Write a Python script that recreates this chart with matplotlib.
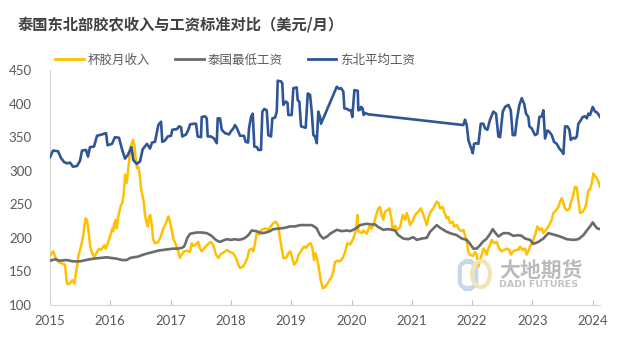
import matplotlib
matplotlib.use("Agg")
import matplotlib.pyplot as plt
from matplotlib.lines import Line2D
from matplotlib.patches import FancyBboxPatch, Ellipse

plt.rcParams['font.family'] = ['Noto Sans CJK SC', 'DejaVu Sans']

# ---------------- data (decimal year, USD/month) ----------------
cup_t = [2015.000, 2015.055, 2015.083, 2015.138, 2015.199, 2015.249, 2015.265, 2015.282, 2015.315, 2015.348,
         2015.370, 2015.403, 2015.426, 2015.453, 2015.469, 2015.498, 2015.526, 2015.552, 2015.569, 2015.592,
         2015.614, 2015.635, 2015.658, 2015.680, 2015.701, 2015.735, 2015.774, 2015.813, 2015.846, 2015.867,
         2015.900, 2015.924, 2015.957, 2015.978, 2016.012, 2016.033, 2016.050, 2016.066, 2016.090, 2016.106,
         2016.128, 2016.144, 2016.177, 2016.199, 2016.222, 2016.232, 2016.244, 2016.272, 2016.289, 2016.310,
         2016.332, 2016.355, 2016.376, 2016.398, 2016.421, 2016.443, 2016.464, 2016.488, 2016.509, 2016.531,
         2016.554, 2016.575, 2016.597, 2016.620, 2016.642, 2016.663, 2016.687, 2016.708, 2016.741, 2016.786,
         2016.824, 2016.879, 2016.924, 2016.962, 2016.985, 2017.018, 2017.045, 2017.101, 2017.156, 2017.184,
         2017.211, 2017.267, 2017.322, 2017.350, 2017.376, 2017.433, 2017.459, 2017.488, 2017.516, 2017.554,
         2017.599, 2017.665, 2017.708, 2017.753, 2017.791, 2017.831, 2017.874, 2017.930, 2017.985, 2018.040,
         2018.085, 2018.123, 2018.151, 2018.196, 2018.234, 2018.272, 2018.305, 2018.345, 2018.371, 2018.400,
         2018.428, 2018.471, 2018.511, 2018.566, 2018.620, 2018.677, 2018.703, 2018.748, 2018.786, 2018.814,
         2018.843, 2018.869, 2018.914, 2018.952, 2018.985, 2019.018, 2019.046, 2019.091, 2019.118, 2019.174,
         2019.212, 2019.245, 2019.284, 2019.323, 2019.350, 2019.378, 2019.400, 2019.423, 2019.449, 2019.489,
         2019.522, 2019.549, 2019.589, 2019.627, 2019.672, 2019.698, 2019.726, 2019.765, 2019.809, 2019.854,
         2019.892, 2019.930, 2019.975, 2020.030, 2020.075, 2020.096, 2020.113, 2020.169, 2020.196, 2020.252,
         2020.295, 2020.335, 2020.373, 2020.418, 2020.444, 2020.473, 2020.501, 2020.527, 2020.556, 2020.594,
         2020.627, 2020.655, 2020.683, 2020.721, 2020.760, 2020.804, 2020.849, 2020.887, 2020.916, 2020.942,
         2020.970, 2021.015, 2021.053, 2021.081, 2021.108, 2021.148, 2021.181, 2021.219, 2021.247, 2021.274,
         2021.313, 2021.357, 2021.385, 2021.413, 2021.440, 2021.468, 2021.512, 2021.534, 2021.579, 2021.605,
         2021.634, 2021.678, 2021.700, 2021.745, 2021.788, 2021.828, 2021.854, 2021.882, 2021.910, 2021.937,
         2021.965, 2022.010, 2022.048, 2022.076, 2022.103, 2022.131, 2022.159, 2022.186, 2022.214, 2022.242,
         2022.269, 2022.297, 2022.325, 2022.363, 2022.408, 2022.435, 2022.463, 2022.491, 2022.529, 2022.574,
         2022.617, 2022.640, 2022.683, 2022.728, 2022.766, 2022.794, 2022.839, 2022.877, 2022.905, 2022.932,
         2022.960, 2023.005, 2023.043, 2023.081, 2023.115, 2023.154, 2023.181, 2023.226, 2023.264, 2023.292,
         2023.320, 2023.347, 2023.391, 2023.430, 2023.458, 2023.486, 2023.513, 2023.541, 2023.569, 2023.612,
         2023.635, 2023.668, 2023.707, 2023.735, 2023.761, 2023.789, 2023.834, 2023.872, 2023.901, 2023.927,
         2023.955, 2023.983, 2024.010, 2024.038, 2024.066, 2024.093, 2024.121]
cup_income = [174, 180, 172, 164, 162, 160, 145, 132, 131, 134,
              137, 132, 145, 160, 172, 182, 192, 204, 217, 229,
              226, 212, 194, 182, 177, 172, 178, 184, 182, 185,
              189, 184, 192, 197, 207, 214, 210, 222, 227, 214,
              229, 237, 249, 252, 264, 276, 294, 282, 296, 313,
              336, 340, 346, 338, 318, 304, 306, 294, 274, 264,
              254, 234, 224, 217, 231, 234, 219, 199, 192, 193,
              199, 214, 222, 232, 226, 212, 199, 187, 170, 175,
              179, 181, 179, 192, 188, 191, 194, 184, 180, 184,
              189, 194, 189, 175, 170, 176, 178, 182, 179, 177,
              170, 160, 155, 157, 162, 170, 182, 184, 180, 192,
              207, 205, 212, 214, 212, 219, 222, 224, 217, 199,
              184, 170, 170, 177, 180, 170, 160, 165, 174, 182,
              187, 185, 190, 192, 185, 167, 177, 170, 160, 137,
              125, 126, 130, 136, 142, 150, 164, 166, 165, 170,
              178, 192, 190, 199, 212, 234, 210, 207, 211, 206,
              217, 214, 222, 237, 244, 246, 234, 227, 239, 241,
              244, 232, 212, 218, 212, 216, 234, 227, 237, 230,
              219, 225, 234, 237, 239, 244, 237, 227, 219, 230,
              239, 244, 249, 254, 252, 244, 246, 239, 229, 231,
              222, 224, 217, 219, 212, 210, 212, 204, 194, 179,
              175, 173, 179, 175, 157, 167, 175, 184, 181, 175,
              184, 189, 197, 192, 194, 187, 182, 180, 182, 184,
              182, 175, 180, 182, 182, 187, 182, 184, 175, 180,
              187, 194, 204, 217, 212, 214, 207, 212, 217, 222,
              227, 237, 241, 246, 254, 259, 251, 244, 241, 243,
              252, 261, 276, 275, 256, 237, 239, 244, 256, 271,
              272, 281, 296, 292, 289, 284, 276]

min_t = [2015.000, 2015.083, 2015.166, 2015.277, 2015.381, 2015.498, 2015.597, 2015.718, 2015.829, 2015.940,
         2016.028, 2016.106, 2016.194, 2016.272, 2016.327, 2016.381, 2016.459, 2016.547, 2016.625, 2016.713,
         2016.791, 2016.879, 2016.957, 2017.045, 2017.123, 2017.184, 2017.222, 2017.247, 2017.277, 2017.322,
         2017.371, 2017.433, 2017.516, 2017.599, 2017.665, 2017.703, 2017.736, 2017.786, 2017.819, 2017.869,
         2017.930, 2018.002, 2018.068, 2018.123, 2018.184, 2018.234, 2018.289, 2018.345, 2018.416, 2018.511,
         2018.582, 2018.648, 2018.703, 2018.814, 2018.897, 2018.980, 2019.063, 2019.146, 2019.229, 2019.340,
         2019.395, 2019.423, 2019.449, 2019.478, 2019.532, 2019.594, 2019.643, 2019.698, 2019.755, 2019.837,
         2019.920, 2019.975, 2020.030, 2020.086, 2020.141, 2020.252, 2020.323, 2020.390, 2020.444, 2020.527,
         2020.605, 2020.672, 2020.721, 2020.776, 2020.859, 2020.937, 2021.025, 2021.081, 2021.164, 2021.247,
         2021.302, 2021.357, 2021.413, 2021.468, 2021.522, 2021.579, 2021.634, 2021.745, 2021.828, 2021.910,
         2021.965, 2022.020, 2022.076, 2022.131, 2022.176, 2022.242, 2022.297, 2022.342, 2022.380, 2022.435,
         2022.517, 2022.600, 2022.683, 2022.766, 2022.823, 2022.877, 2022.960, 2023.015, 2023.098, 2023.181,
         2023.264, 2023.347, 2023.458, 2023.569, 2023.678, 2023.761, 2023.844, 2023.910, 2023.955, 2024.000,
         2024.038, 2024.076, 2024.121]
min_wage = [166, 168, 166, 167, 165, 165, 167, 169, 170, 171,
            170, 169, 167, 167, 170, 171, 172, 175, 177, 179,
            181, 182, 183, 184, 184, 185, 187, 192, 200, 206,
            207, 208, 208, 207, 204, 201, 198, 195, 194, 196,
            198, 197, 198, 197, 198, 200, 204, 211, 210, 207,
            208, 210, 213, 214, 215, 217, 217, 219, 219, 219,
            216, 214, 209, 204, 199, 202, 206, 209, 212, 210,
            211, 210, 212, 215, 219, 221, 220, 220, 216, 212,
            213, 212, 211, 204, 199, 198, 201, 197, 199, 200,
            209, 214, 219, 215, 212, 209, 207, 204, 199, 197,
            191, 184, 184, 189, 194, 199, 206, 213, 208, 202,
            207, 207, 203, 204, 203, 199, 197, 191, 194, 199,
            207, 205, 202, 198, 197, 198, 204, 212, 217, 223,
            218, 214, 213]

ne_t = [2015.000, 2015.050, 2015.133, 2015.182, 2015.232, 2015.282, 2015.332, 2015.381, 2015.448, 2015.498,
        2015.531, 2015.597, 2015.630, 2015.663, 2015.730, 2015.779, 2015.862, 2015.929, 2015.954, 2016.028,
        2016.078, 2016.144, 2016.194, 2016.244, 2016.294, 2016.352, 2016.381, 2016.438, 2016.493, 2016.537,
        2016.609, 2016.658, 2016.692, 2016.741, 2016.796, 2016.841, 2016.862, 2016.907, 2016.952, 2017.007,
        2017.028, 2017.106, 2017.139, 2017.172, 2017.194, 2017.255, 2017.294, 2017.322, 2017.388, 2017.421,
        2017.449, 2017.504, 2017.516, 2017.570, 2017.599, 2017.615, 2017.670, 2017.720, 2017.765, 2017.781,
        2017.819, 2017.848, 2017.902, 2017.969, 2018.002, 2018.040, 2018.068, 2018.101, 2018.151, 2018.217,
        2018.245, 2018.284, 2018.300, 2018.333, 2018.362, 2018.388, 2018.433, 2018.454, 2018.499, 2018.521,
        2018.554, 2018.594, 2018.620, 2018.665, 2018.687, 2018.731, 2018.760, 2018.776, 2018.831, 2018.852,
        2018.869, 2018.909, 2018.939, 2018.952, 2019.008, 2019.035, 2019.091, 2019.108, 2019.134, 2019.163,
        2019.204, 2019.240, 2019.274, 2019.312, 2019.340, 2019.367, 2019.395, 2019.423, 2019.449, 2019.478,
        2019.494, 2019.755, 2019.793, 2019.826, 2019.864, 2019.881, 2019.925, 2019.959, 2019.992, 2020.013,
        2020.047, 2020.103, 2020.113, 2020.141, 2020.158, 2020.182, 2020.202, 2020.224, 2020.252, 2020.279,
        2021.854, 2021.882, 2021.910, 2021.937, 2021.965, 2021.990, 2022.010, 2022.032, 2022.065, 2022.103,
        2022.143, 2022.186, 2022.214, 2022.252, 2022.297, 2022.352, 2022.396, 2022.435, 2022.463, 2022.508,
        2022.546, 2022.601, 2022.640, 2022.673, 2022.712, 2022.740, 2022.783, 2022.823, 2022.861, 2022.894,
        2022.932, 2022.949, 2022.988, 2023.043, 2023.081, 2023.115, 2023.154, 2023.181, 2023.209, 2023.247,
        2023.280, 2023.320, 2023.358, 2023.403, 2023.446, 2023.486, 2023.513, 2023.541, 2023.579, 2023.612,
        2023.635, 2023.678, 2023.707, 2023.735, 2023.761, 2023.801, 2023.834, 2023.872, 2023.901, 2023.927,
        2023.955, 2024.000, 2024.038, 2024.066, 2024.093, 2024.121]
ne_wage = [320, 330, 329, 319, 313, 311, 312, 306, 307, 315,
           330, 331, 321, 335, 336, 352, 354, 356, 338, 340,
           350, 349, 332, 318, 324, 335, 316, 310, 314, 332,
           340, 333, 342, 343, 368, 373, 343, 345, 351, 352,
           361, 362, 366, 365, 351, 354, 361, 369, 370, 370,
           351, 350, 380, 381, 378, 351, 351, 348, 341, 378,
           378, 361, 356, 354, 359, 363, 368, 363, 352, 352,
           343, 342, 363, 380, 385, 336, 335, 331, 331, 388,
           392, 390, 353, 351, 378, 379, 388, 434, 433, 430,
           398, 403, 401, 383, 383, 423, 424, 405, 403, 366,
           365, 364, 415, 413, 388, 353, 351, 341, 388, 380,
           370, 425, 422, 423, 418, 393, 392, 390, 390, 380,
           420, 419, 390, 391, 395, 393, 383, 386, 385, 384,
           368, 376, 368, 346, 338, 332, 326, 340, 341, 340,
           370, 370, 363, 361, 376, 388, 385, 351, 350, 388,
           395, 398, 390, 353, 353, 375, 398, 408, 400, 385,
           380, 366, 363, 353, 355, 380, 381, 390, 348, 360,
           358, 353, 343, 340, 333, 329, 325, 366, 366, 361,
           346, 349, 348, 351, 370, 375, 380, 381, 378, 385,
           383, 395, 388, 387, 384, 380]

series_names = ['杯胶月收入', '泰国最低工资', '东北平均工资']
series_colors = ['#FFC000', '#6B6B6B', '#2F5597']
year_ticks = [2015, 2016, 2017, 2018, 2019, 2020, 2021, 2022, 2023, 2024]
y_ticks = [100, 150, 200, 250, 300, 350, 400, 450]
title = '泰国东北部胶农收入与工资标准对比（美元/月）'

# ---------------- figure ----------------
fig = plt.figure(figsize=(6.24, 3.43), dpi=100)
ax = fig.add_axes([50/624, 38/343, 550/624, 235/343])

ax.plot(cup_t, cup_income, color=series_colors[0], lw=1.8, solid_joinstyle='round', zorder=3)
ax.plot(min_t, min_wage, color=series_colors[1], lw=1.9, solid_joinstyle='round', zorder=4)
ax.plot(ne_t, ne_wage, color=series_colors[2], lw=1.9, solid_joinstyle='round', zorder=5)

ax.set_xlim(2015, 2024.12)
ax.set_ylim(100, 450)
ax.set_xticks(year_ticks)
ax.set_xticklabels([str(y) for y in year_ticks])
ax.set_yticks(y_ticks)
ax.set_yticklabels([str(v) for v in y_ticks])

for s in ['top', 'right']:
    ax.spines[s].set_visible(False)
for s in ['left', 'bottom']:
    ax.spines[s].set_color('#D9D9D9')
    ax.spines[s].set_linewidth(0.9)

ax.tick_params(axis='x', direction='in', length=3.5, width=0.8, color='#BFBFBF',
               labelsize=9.5, labelcolor='#595959', pad=7)
ax.tick_params(axis='y', length=0, labelsize=9.5, labelcolor='#595959', pad=13)
for lab in ax.get_xticklabels() + ax.get_yticklabels():
    lab.set_family(['Lato', 'DejaVu Sans'])

# title
fig.text(18/624, 1 - 25/343, title, fontsize=11, fontweight='bold', color='#404040',
         ha='left', va='center')

# legend
handles = [Line2D([0], [0], color=c, lw=2) for c in series_colors]
leg = fig.legend(handles, series_names, loc='center left', bbox_to_anchor=(55/624, 1 - 60/343),
                 ncol=3, frameon=False, fontsize=9, handlelength=2.3, handletextpad=0.3,
                 columnspacing=2.0, borderpad=0, borderaxespad=0)
for t in leg.get_texts():
    t.set_color('#595959')

# watermark (logo + text)
fig.patches.append(FancyBboxPatch((461/624, 1 - 288/343), 14/624, 26/343,
                                  boxstyle='round,pad=0.002,rounding_size=0.02',
                                  transform=fig.transFigure, fill=False,
                                  edgecolor='#C8D6EA', lw=3, zorder=1))
fig.patches.append(Ellipse((481/624, 1 - 274/343), 18/624, 26/343, transform=fig.transFigure,
                           fill=False, edgecolor='#F0E3B8', lw=3, zorder=1))
fig.text(499/624, 1 - 270/343, '大地期货', fontsize=15, fontweight='bold', color='#B0B0B0',
         ha='left', va='center', alpha=0.85)
fig.text(499/624, 1 - 284.5/343, 'DADI FUTURES', fontsize=6.8, fontweight='bold', color='#B8B8B8',
         ha='left', va='center', alpha=0.85, family=['DejaVu Sans'])

fig.savefig('out.png', dpi=100)
